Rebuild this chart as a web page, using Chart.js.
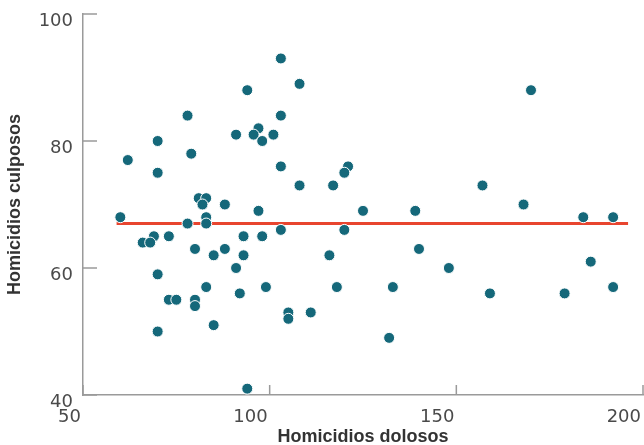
<!DOCTYPE html>
<html>
<head>
<meta charset="utf-8">
<script src="https://cdn.jsdelivr.net/npm/chart.js@4"></script>
<style>
  html, body { margin: 0; padding: 0; background: #fff; }
  #wrap { width: 644px; height: 445px; }
</style>
</head>
<body>
<div id="wrap"><canvas id="scatterChart"></canvas></div>
<script>
// homicidios dolosos (x) vs culposos (y)
let dolosos = [103, 108, 94, 78, 103, 91, 97, 95.7, 98, 101, 70, 62, 79, 70, 103, 108,
               81, 83, 82, 88, 97, 60, 83, 78, 83, 103, 69, 66, 68, 73, 93, 98,
               80, 88, 85, 93, 91, 70, 83, 99, 92, 73, 75, 80, 80, 105, 105, 111,
               85, 70, 94, 170, 121, 120, 117, 157, 125, 139, 168, 184, 192, 120, 116, 140,
               148, 186, 118, 133, 159, 179, 192, 132];
let culposos = [93, 89, 88, 84, 84, 81, 82, 81, 80, 81, 80, 77, 78, 75, 76, 73,
                71, 71, 70, 70, 69, 68, 68, 67, 67, 66, 65, 64, 64, 65, 65, 65,
                63, 63, 62, 62, 60, 59, 57, 57, 56, 55, 55, 55, 54, 53, 52, 53,
                51, 50, 41, 88, 76, 75, 73, 73, 69, 69, 70, 68, 68, 66, 62, 63,
                60, 61, 57, 57, 56, 56, 57, 49];
let lineX = [59, 196];
let lineY = [67, 67];
let xTicks = [50, 100, 150, 200];
let yTicks = [40, 60, 80, 100];

let points = [];
for (let i = 0; i < dolosos.length; i++) {
    points.push({x: dolosos[i], y: culposos[i]});
}
let linePoints = [];
for (let i = 0; i < lineX.length; i++) {
    linePoints.push({x: lineX[i], y: lineY[i]});
}

let axisColor = '#9a9a9a';
let titleFont = "'Liberation Sans', Arial, sans-serif";

// short tick marks drawn inward from the axes
let innerTicks = {
    id: 'innerTicks',
    afterDraw(chart) {
        let ctx = chart.ctx;
        let xs = chart.scales.x, ys = chart.scales.y;
        let area = chart.chartArea;
        ctx.save();
        ctx.strokeStyle = axisColor;
        ctx.lineWidth = 1.5;
        ctx.beginPath();
        for (let i = 0; i < xs.ticks.length; i++) {
            let px = xs.getPixelForValue(xs.ticks[i].value);
            ctx.moveTo(px, area.bottom);
            ctx.lineTo(px, area.bottom - 10);
        }
        for (let i = 0; i < ys.ticks.length; i++) {
            let py = ys.getPixelForValue(ys.ticks[i].value);
            ctx.moveTo(area.left, py);
            ctx.lineTo(area.left + 14, py);
        }
        ctx.stroke();
        ctx.restore();
    }
};

let canvas = document.getElementById('scatterChart');
let chart = new Chart(canvas, {
    type: 'scatter',
    data: {
        datasets: [
            {
                label: 'Estados',
                data: points,
                backgroundColor: '#15687a',
                borderColor: '#ffffff',
                borderWidth: 1,
                pointRadius: 5.5,
                order: 1
            },
            {
                label: 'Promedio',
                type: 'line',
                data: linePoints,
                borderColor: '#e8452f',
                borderWidth: 3,
                pointRadius: 0,
                fill: false,
                order: 2
            }
        ]
    },
    plugins: [innerTicks],
    options: {
        responsive: true,
        maintainAspectRatio: false,
        animation: false,
        layout: { autoPadding: false, padding: { top: 14, right: 1, left: 0, bottom: 0 } },
        plugins: {
            legend: { display: false },
            tooltip: { enabled: false }
        },
        scales: {
            x: {
                type: 'linear',
                min: 50,
                max: 200,
                afterBuildTicks: s => { s.ticks = xTicks.map(v => ({value: v})); },
                afterFit: s => { s.height = 50; s.paddingRight = 0; s.paddingLeft = 0; },
                grid: { display: false, tickLength: 12 },
                border: { display: true, color: axisColor, width: 1.5 },
                ticks: {
                    align: 'end',
                    padding: 0,
                    labelOffset: -2,
                    maxRotation: 0,
                    color: '#4a4a4a',
                    font: { family: 'DejaVu Sans', size: 18 }
                },
                title: {
                    display: true,
                    text: 'Homicidios dolosos',
                    color: '#333333',
                    padding: { top: 0, bottom: 0 },
                    font: { family: titleFont, size: 18, weight: 'bold', lineHeight: 0.9 }
                }
            },
            y: {
                type: 'linear',
                min: 40,
                max: 100,
                afterBuildTicks: s => { s.ticks = yTicks.map(v => ({value: v})); },
                afterFit: s => { s.width = 83; },
                grid: { display: false, tickLength: 10 },
                border: { display: true, color: axisColor, width: 1.5 },
                ticks: {
                    align: 'start',
                    padding: 0,
                    labelOffset: -2,
                    color: '#4a4a4a',
                    font: { family: 'DejaVu Sans', size: 18 }
                },
                title: {
                    display: true,
                    text: 'Homicidios culposos',
                    color: '#333333',
                    padding: { top: 7, bottom: 0 },
                    font: { family: titleFont, size: 18, weight: 'bold', lineHeight: 0.9 }
                }
            }
        }
    }
});
</script>
</body>
</html>
